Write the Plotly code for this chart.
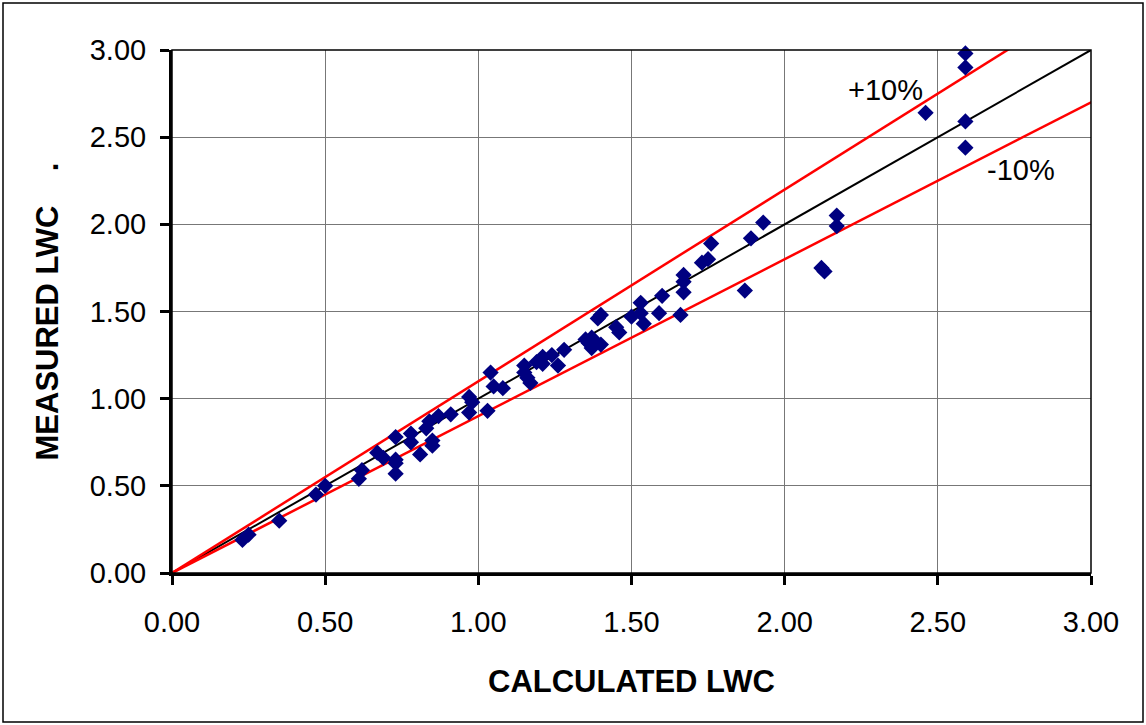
import plotly.graph_objects as go

# Calculated vs measured LWC
calculated_lwc = [
    0.23, 0.25, 0.35, 0.47, 0.50, 0.61, 0.62, 0.67, 0.69, 0.73,
    0.73, 0.73, 0.73, 0.78, 0.78, 0.81, 0.83, 0.84, 0.85, 0.85,
    0.87, 0.91, 0.97, 0.98, 0.97, 1.03, 1.04, 1.05, 1.08, 1.15,
    1.15, 1.16, 1.17, 1.19, 1.21, 1.21, 1.24, 1.26, 1.28, 1.35,
    1.36, 1.37, 1.37, 1.38, 1.39, 1.40, 1.40, 1.45, 1.46, 1.50,
    1.53, 1.53, 1.54, 1.59, 1.60, 1.66, 1.67, 1.67, 1.67, 1.73,
    1.75, 1.76, 1.87, 1.89, 1.93, 2.12, 2.13, 2.17, 2.17, 2.46,
    2.59, 2.59, 2.59, 2.59,
]
measured_lwc = [
    0.19, 0.22, 0.30, 0.45, 0.50, 0.54, 0.59, 0.69, 0.66, 0.78,
    0.65, 0.63, 0.57, 0.80, 0.75, 0.68, 0.83, 0.87, 0.76, 0.73,
    0.90, 0.91, 1.01, 0.98, 0.92, 0.93, 1.15, 1.07, 1.06, 1.19,
    1.15, 1.12, 1.09, 1.21, 1.24, 1.20, 1.25, 1.19, 1.28, 1.34,
    1.32, 1.29, 1.35, 1.33, 1.46, 1.31, 1.48, 1.41, 1.38, 1.47,
    1.49, 1.55, 1.43, 1.49, 1.59, 1.48, 1.61, 1.67, 1.71, 1.78,
    1.80, 1.89, 1.62, 1.92, 2.01, 1.75, 1.73, 2.05, 1.99, 2.64,
    2.98, 2.90, 2.59, 2.44,
]

# Reference lines: 1:1 and +/-10 %
line_x = [0.0, 3.02]
upper_x = [0.0, 2.76]
ratio_one = 1.0
ratio_plus = 1.10
ratio_minus = 0.90

tick_vals = [0.0, 0.5, 1.0, 1.5, 2.0, 2.5, 3.0]
tick_text = ["0.00", "0.50", "1.00", "1.50", "2.00", "2.50", "3.00"]

W, H = 1146, 725
ML, MR, MT, MB = 172, 55, 50, 152
FONT = "Liberation Sans, Arial, sans-serif"

fig = go.Figure()

fig.add_trace(go.Scatter(
    x=line_x, y=[v * ratio_one for v in line_x], mode="lines",
    line=dict(color="black", width=2), hoverinfo="skip"
))
fig.add_trace(go.Scatter(
    x=upper_x, y=[v * ratio_plus for v in upper_x], mode="lines",
    line=dict(color="#ff0000", width=2.5), hoverinfo="skip"
))
fig.add_trace(go.Scatter(
    x=line_x, y=[v * ratio_minus for v in line_x], mode="lines",
    line=dict(color="#ff0000", width=2.5), hoverinfo="skip"
))
fig.add_trace(go.Scatter(
    x=calculated_lwc, y=measured_lwc, mode="markers",
    marker=dict(symbol="diamond", size=12.5, color="#000080",
                line=dict(width=0)),
    cliponaxis=False
))

axis_common = dict(
    range=[0, 3],
    tickvals=tick_vals,
    ticktext=tick_text,
    showgrid=True,
    gridcolor="#777777",
    gridwidth=1,
    zeroline=False,
    showline=True,
    linecolor="black",
    linewidth=3,
    ticks="outside",
    ticklen=9,
    tickwidth=3,
    tickcolor="black",
    tickfont=dict(family=FONT, size=29, color="black"),
)

fig.update_xaxes(
    **axis_common,
    ticklabelstandoff=12,
    title=dict(text="<b>CALCULATED LWC</b>", standoff=34,
               font=dict(family=FONT, size=31, color="black")),
)
fig.update_yaxes(
    **axis_common,
    ticklabelstandoff=8,
    title=dict(text="<b>MEASURED LWC\u00a0\u00a0\u00a0\u00a0.</b>", standoff=22,
               font=dict(family=FONT, size=31, color="black")),
)

# thin border round the plot area, and round the whole picture
pw = W - ML - MR
ph = H - MT - MB
fig.add_shape(type="rect", xref="paper", yref="paper", x0=0, y0=0, x1=1, y1=1,
              line=dict(color="black", width=1.5), layer="above")
fig.add_shape(type="rect", xref="paper", yref="paper",
              x0=(3 - ML) / pw, x1=(W - 3 - ML) / pw,
              y0=-(H - 3 - MT - ph) / ph, y1=(ph + MT - 3) / ph,
              line=dict(color="black", width=1.5))

fig.add_annotation(x=2.33, y=2.77, text="+10%", showarrow=False,
                   font=dict(family=FONT, size=29, color="black"))
fig.add_annotation(x=2.77, y=2.31, text="-10%", showarrow=False,
                   font=dict(family=FONT, size=29, color="black"))

fig.update_layout(
    width=W, height=H,
    margin=dict(l=ML, r=MR, t=MT, b=MB, autoexpand=False),
    plot_bgcolor="white",
    paper_bgcolor="white",
    showlegend=False,
)

# drop the page's default body margin so the figure sits at the corner
fig.write_html("out.html", config={"displayModeBar": False},
               post_script="document.body.style.margin='0';")
